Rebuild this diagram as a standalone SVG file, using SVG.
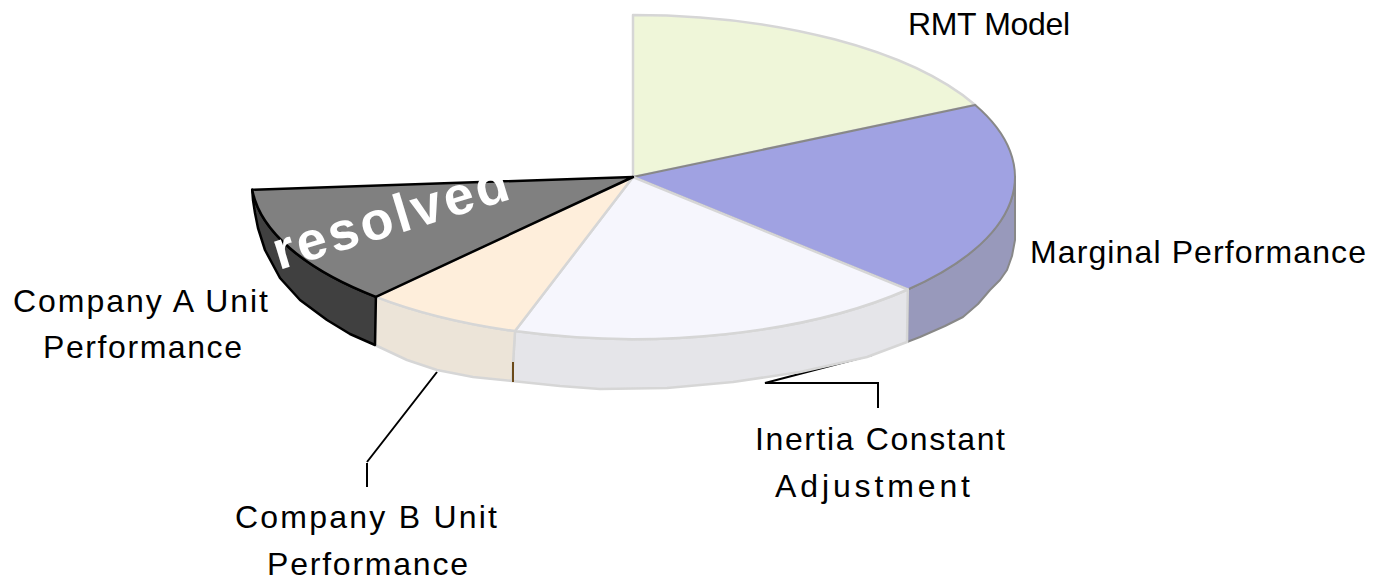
<svg xmlns="http://www.w3.org/2000/svg" width="1391" height="581" viewBox="0 0 1391 581">
<style>
.lbl{font-family:"Liberation Sans",Arial,sans-serif;font-size:32px;fill:#000}
.res{font-family:"Liberation Sans",Arial,sans-serif;font-size:54px;font-weight:bold;fill:#fff}
.conn{fill:none;stroke:#000;stroke-width:2}
.lite{stroke:#d6d6d6;stroke-width:2.5;stroke-linejoin:round}
.pur{stroke:#888;stroke-width:2;stroke-linejoin:round}
.drk{stroke:#000;stroke-width:2.5;stroke-linejoin:round}
</style>
<rect width="1391" height="581" fill="#fff"/>
<g id="connectors">
<path class="conn" d="M437,372 L367,462 M367,463 V487"/>
<path class="conn" d="M878,408 V383 H765 L872,355"/>
</g>
<g id="rmt-model">
<path class="lite" fill="#eff6d9" d="M633,177 L633,15 A382,162 0 0 1 975.2,105 Z"/>
<text class="lbl" x="908" y="35" textLength="162" lengthAdjust="spacing">RMT Model</text>
</g>
<g id="marginal-performance">
<path class="pur" fill="#9899bb" d="M1015,177 A382,162 0 0 1 907.8,289.5 L907,342 L920,337 L945,326 L963,317 L978,304 L990,290 L1000,280 L1007,270 L1012,256 L1015,240 Z"/>
<path class="pur" fill="#a0a2e2" d="M633,177 L975.2,105 A382,162 0 0 1 907.8,289.5 Z"/>
<text class="lbl" x="1030" y="263" textLength="336" lengthAdjust="spacing">Marginal Performance</text>
</g>
<g id="inertia-constant">
<path class="lite" fill="#e5e5e9" d="M907.8,289.5 A382,162 0 0 1 515,331.1 L512,381 L560,386 L600,389 L667,388 L733,382 L800,372 L867,357 L907,342 Z"/>
<path class="lite" fill="#f6f6fd" d="M633,177 L907.8,289.5 A382,162 0 0 1 515,331.1 Z"/>
<text class="lbl" x="755" y="450" textLength="250" lengthAdjust="spacing">Inertia Constant</text>
<text class="lbl" x="775" y="497" textLength="195" lengthAdjust="spacing">Adjustment</text>
</g>
<g id="company-b">
<path class="lite" fill="#ece4d8" d="M515,331.1 A382,162 0 0 1 375.9,296.8 L375,345 L407,360 L437,370 L473,377 L512,381 Z"/>
<line x1="513" y1="362" x2="513" y2="382" stroke="#6b4a1a" stroke-width="2"/>
<path class="lite" fill="#feeedb" d="M633,177 L515,331.1 A382,162 0 0 1 375.9,296.8 Z"/>
<text class="lbl" x="235" y="528" textLength="262" lengthAdjust="spacing">Company B Unit</text>
<text class="lbl" x="267" y="575" textLength="201" lengthAdjust="spacing">Performance</text>
</g>
<g id="company-a">
<path class="drk" fill="#404040" d="M375.9,296.8 A382,162 0 0 1 252.2,189.7 L253,200 L255,213 L258,228 L265,250 L280,278 L300,300 L327,320 L350,334 L375,345 Z"/>
<path class="drk" fill="#808080" d="M633,177 L375.9,296.8 A382,162 0 0 1 252.2,189.7 Z"/>
<text class="res" x="279" y="270" transform="rotate(-17 279 270)" textLength="244" lengthAdjust="spacing">resolved</text>
<text class="lbl" x="13" y="312" textLength="255" lengthAdjust="spacing">Company A Unit</text>
<text class="lbl" x="43" y="358" textLength="199" lengthAdjust="spacing">Performance</text>
</g>
</svg>
